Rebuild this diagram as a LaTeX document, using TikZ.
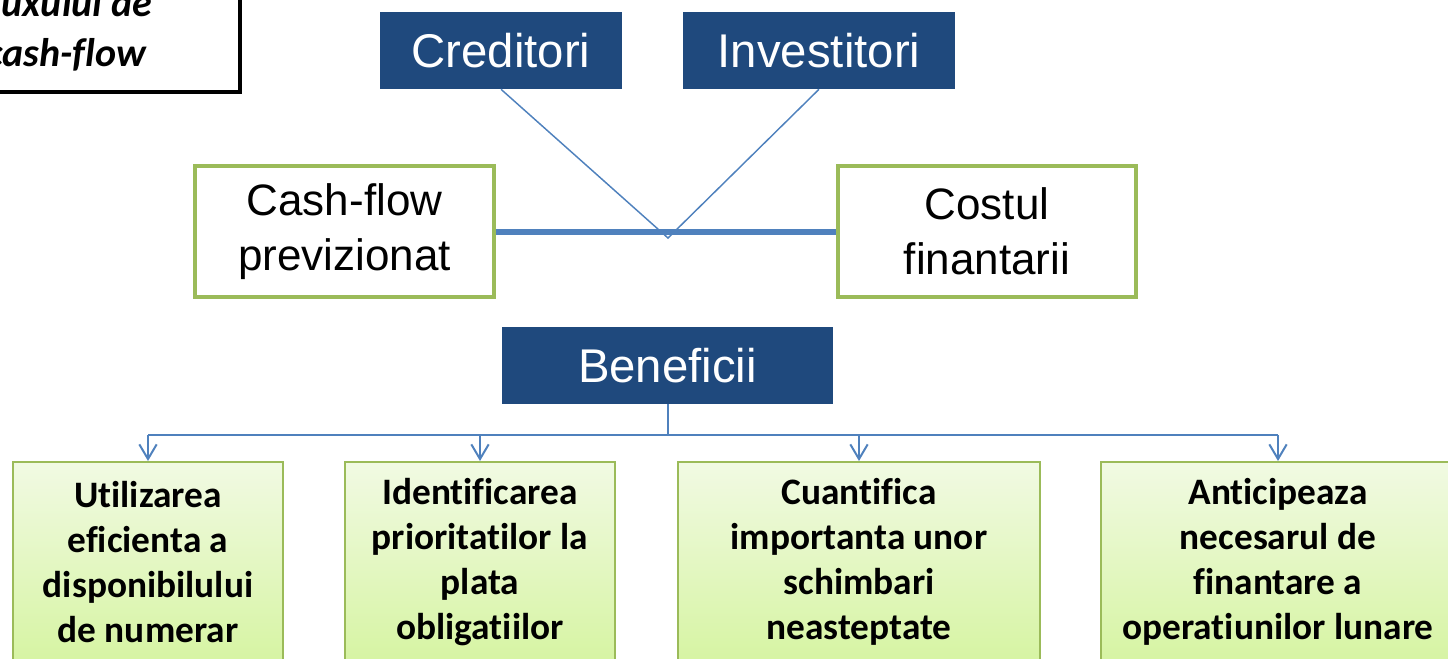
\documentclass[tikz,border=0pt]{standalone}
\usepackage{fontspec}
\setmainfont{Liberation Sans}
\newfontfamily\carl[Ligatures={NoCommon,NoContextual}]{Carlito}
\usetikzlibrary{arrows.meta,calc}
\definecolor{dblue}{HTML}{1F497D}
\definecolor{lgreen}{HTML}{9BBB59}
\definecolor{lblue}{HTML}{4F81BD}
\definecolor{gtop}{HTML}{F1FAE3}
\definecolor{gbot}{HTML}{D6F4A2}
\begin{document}
\begin{tikzpicture}[x=0.75pt,y=-0.75pt,
  darkbox/.style={fill=dblue, text=white, minimum height=57.75pt, inner sep=0pt, font=\fontsize{35.5}{40}\selectfont},
  greenbox/.style={draw=lgreen, line width=3pt, fill=white, minimum width=224pt, minimum height=98pt, inner sep=0pt, align=center, font=\fontsize{33}{41}\selectfont},
  benbox/.style={draw=lgreen, line width=1.5pt, top color=gtop, bottom color=gbot, minimum height=151.5pt, anchor=north, inner sep=0pt},
  bentext/.style={align=center, inner sep=0pt, font=\carl\bfseries\fontsize{28}{33.75}\selectfont},
  thinline/.style={draw=lblue, line width=1.1pt},
  treeline/.style={draw=lblue, line width=1.5pt},
  arr/.style={-{Straight Barb[length=11pt,width=13pt]}}
]
\useasboundingbox (0,0) rectangle (1448,658);
\clip (0,0) rectangle (1448,658);

% title box (cropped)
\node[draw=black, line width=3pt, minimum width=300pt, minimum height=108pt, inner sep=0pt] (ttl) at (40,20) {};
\node[align=center, inner sep=0pt, font=\carl\bfseries\itshape\fontsize{30}{37.5}\selectfont] (ttltext) at (66,30) {fluxului de\\cash-flow};

% top dark boxes
\node[darkbox, minimum width=181.5pt] (cred) at (501,50.5) {Creditori};
\node[darkbox, minimum width=204pt] (inv) at (819,50.5) {Investitori};

% green boxes
\node[greenbox] (cf) at (344.5,231.5) {Cash-flow\\previzionat};
\node[greenbox] (cost) at (987,231.5) {Costul\\finantarii};

% connectors top
\coordinate (apex) at (668,238);
\draw[thinline] (cred.south) -- (apex) -- (inv.south);
\draw[draw=lblue, line width=4.5pt] (cf.east) -- (cost.west);

% Beneficii
\node[darkbox, minimum width=248.25pt] (ben) at (667.5,365.5) {Beneficii};

% bottom boxes
\node[benbox, minimum width=202.5pt] (b1) at (148,461) {};
\node[benbox, minimum width=202.5pt] (b2) at (480,461) {};
\node[benbox, minimum width=271.5pt] (b3) at (859,461) {};
\node[benbox, minimum width=265.5pt] (b4) at (1278,461) {};

\node[bentext] (t1) at (148,562) {Utilizarea\\eficienta a\\disponibilului\\de numerar};
\node[bentext] (t2) at (480,562) {Identificarea\\prioritatilor la\\plata\\obligatiilor};
\node[bentext] (t3) at (859,562) {Cuantifica\\importanta unor\\schimbari\\neasteptate};
\node[bentext] (t4) at (1278,562) {Anticipeaza\\necesarul de\\finantare a\\operatiunilor lunare};

% tree connectors
\draw[treeline] (ben.south) -- ++(0,31) coordinate (j);
\draw[treeline] (b1.north |- j) -- (b4.north |- j);
\foreach \b in {b1,b2,b3,b4}
  \draw[treeline, arr] (\b.north |- j) -- (\b.north);
\end{tikzpicture}
\end{document}
